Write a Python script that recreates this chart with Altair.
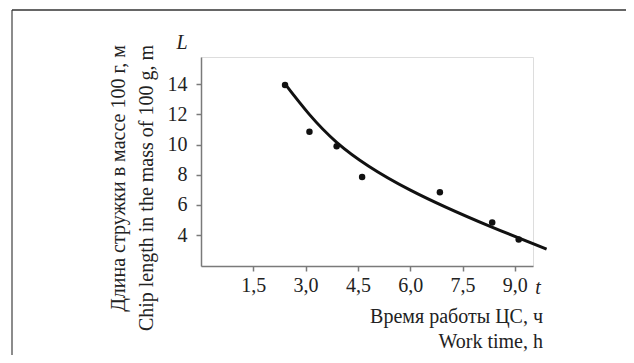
import altair as alt
import pandas as pd

# observed points
t_obs = [2.41, 3.11, 3.89, 4.62, 6.85, 8.35, 9.11]
L_obs = [13.95, 10.85, 9.89, 7.85, 6.83, 4.84, 3.70]
# approximating curve
t_fit = [2.43, 3.89, 5.99, 8.29, 9.91]
L_fit = [13.95, 10.15, 7.00, 4.58, 3.07]
x_ticks = [1.5, 3.0, 4.5, 6.0, 7.5, 9.0]
y_ticks = [4, 6, 8, 10, 12, 14]
y_title = ["Длина стружки в массе 100 г, м", "Chip length in the mass of 100 g, m"]
x_title = ["Время работы ЦС, ч", "Work time, h"]

W, H = 332, 209
FONT = "Liberation Serif"
FS = 20
TXT = "#222222"
AX = "#7a7a7a"

pts = pd.DataFrame({"t": t_obs, "L": L_obs})
fit = pd.DataFrame({"t": t_fit, "L": L_fit})

xs = alt.Scale(domain=[0, 9.52], nice=False, zero=False)
ys = alt.Scale(domain=[1.95, 15.8], nice=False, zero=False)

xax = alt.Axis(values=x_ticks, title=None, grid=False, domainColor=AX, tickColor=AX,
               domainWidth=1.5, tickWidth=1.5, tickSize=5, labelPadding=4,
               labelExpr="replace(format(datum.value, '.1f'), '.', ',')",
               labelFont=FONT, labelFontSize=FS, labelColor=TXT)
yax = alt.Axis(values=y_ticks, title=None, grid=False, domainColor=AX, tickColor=AX,
               domainWidth=1.5, tickWidth=1.5, tickSize=5, labelPadding=9,
               labelFont=FONT, labelFontSize=FS, labelColor=TXT)

curve = alt.Chart(fit).mark_line(color="#111111", strokeWidth=3, interpolate="natural", clip=False).encode(
    x=alt.X("t:Q", scale=xs, axis=xax),
    y=alt.Y("L:Q", scale=ys, axis=yax),
)
dots = alt.Chart(pts).mark_circle(color="#111111", size=42, opacity=1).encode(
    x=alt.X("t:Q", scale=xs),
    y=alt.Y("L:Q", scale=ys),
)

def txt(s, x, y, **kw):
    return alt.Chart(pd.DataFrame({"s": [s]})).mark_text(
        font=FONT, fontSize=FS, color=TXT, baseline="middle", **kw
    ).encode(text="s:N", x=alt.value(x), y=alt.value(y))

labels = [
    txt(y_title[0], -82, -12, angle=270, align="right"),
    txt(y_title[1], -54, -12, angle=270, align="right"),
    txt("L", -19, -14, fontStyle="italic", align="center"),
    txt("t", 337, 231, fontStyle="italic", align="center"),
    txt(x_title[0], 342, 260, align="right"),
    txt(x_title[1], 342, 285, align="right"),
]

frame_v = alt.Chart(pd.DataFrame({"a": [0]})).mark_rule(color="#666666", strokeWidth=1.5).encode(
    x=alt.value(-189), y=alt.value(-47), y2=alt.value(H + 200))
frame_h = alt.Chart(pd.DataFrame({"a": [0]})).mark_rule(color="#333333", strokeWidth=1.5).encode(
    x=alt.value(-189), x2=alt.value(W + 200), y=alt.value(-47))

chart = alt.layer(frame_v, frame_h, curve, dots, *labels).properties(
    width=W, height=H,
    autosize=alt.AutoSizeParams(type="none"),
    padding={"left": 193, "top": 49, "right": 93, "bottom": 89},
).configure_view(stroke=None).configure(background="white")

chart.save("out.html", embed_options={"renderer": "svg", "actions": False})
